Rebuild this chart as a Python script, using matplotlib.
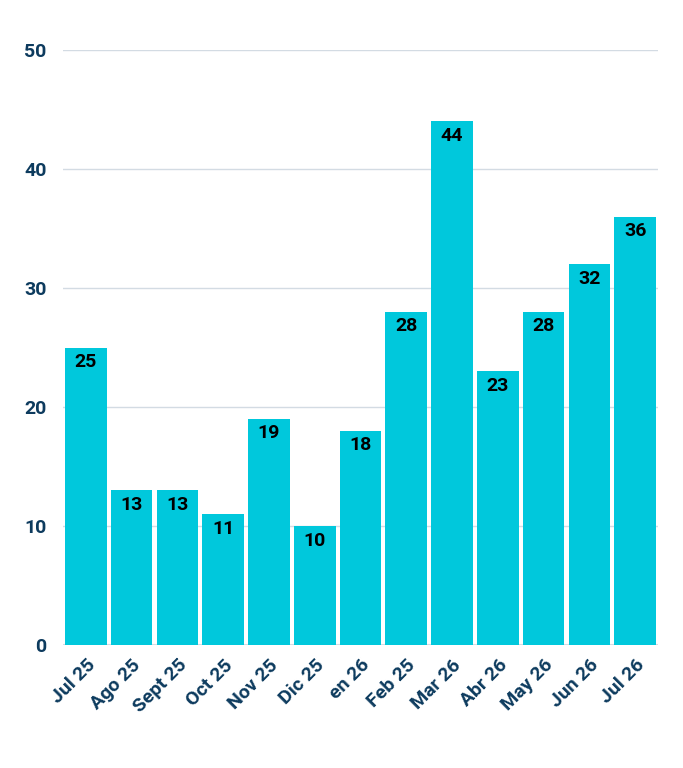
import matplotlib
matplotlib.use("Agg")
import matplotlib.pyplot as plt

plt.rcParams["font.family"] = ["Roboto", "DejaVu Sans"]

months = ["Jul 25", "Ago 25", "Sept 25", "Oct 25", "Nov 25", "Dic 25", "en 26",
          "Feb 25", "Mar 26", "Abr 26", "May 26", "Jun 26", "Jul 26"]
values = [25, 13, 13, 11, 19, 10, 18, 28, 44, 23, 28, 32, 36]
yticks = [0, 10, 20, 30, 40, 50]

bar_color = "#00c8dc"
label_color = "#0d3b5e"
grid_color = "#d3dbe3"

fig = plt.figure(figsize=(6.83, 7.68), dpi=100)
ax = fig.add_axes([63 / 683, 1 - 645 / 768, 595 / 683, 595 / 768])

x = range(len(months))
bars = ax.bar(x, values, width=0.91, color=bar_color, zorder=3)

for b, v in zip(bars, values):
    ax.annotate(str(v), (b.get_x() + b.get_width() / 2, v), xytext=(0, -10.5),
                textcoords="offset points", ha="center", va="center",
                fontsize=14, fontweight="bold", color="black", zorder=4)

ax.set_xlim(-0.5, len(months) - 0.5)
ax.set_ylim(0, 50)
ax.set_yticks(yticks)
ax.set_xticks(list(x))
ax.set_xticklabels(months, rotation=45, ha="right", rotation_mode="anchor")
ax.grid(axis="y", color=grid_color, lw=1, zorder=0)
ax.axhline(0, color=grid_color, lw=1.5, zorder=2)

for s in ax.spines.values():
    s.set_visible(False)
ax.tick_params(axis="both", length=0, labelsize=14, labelcolor=label_color)
ax.tick_params(axis="y", pad=12)
ax.tick_params(axis="x", pad=8)
for t in ax.get_xticklabels() + ax.get_yticklabels():
    t.set_fontweight("bold")

fig.savefig("out.png", dpi=100)
